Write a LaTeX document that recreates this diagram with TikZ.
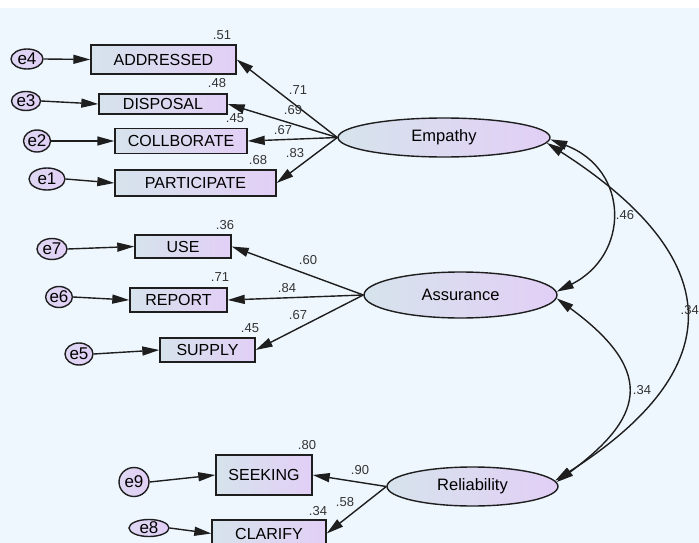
\documentclass[tikz,border=0pt]{standalone}
\usepackage{fontspec}
\setmainfont{Liberation Sans}
\usetikzlibrary{arrows.meta,shapes.geometric}
\definecolor{bgc}{RGB}{239,247,254}
\definecolor{cA}{RGB}{214,227,236}
\definecolor{cB}{RGB}{226,207,246}
\definecolor{edge}{RGB}{30,30,30}
\tikzset{
  obs/.style={draw=edge,line width=1.4pt,left color=cA,right color=cB,inner sep=0pt,font=\fontsize{16}{19}\selectfont},
  lat/.style={ellipse,draw=edge,line width=1.4pt,left color=cA,right color=cB,inner sep=0pt,font=\fontsize{16.5}{19}\selectfont},
  err/.style={ellipse,draw=edge,line width=1.4pt,left color=cA!40!cB,right color=cB,inner sep=0pt,font=\fontsize{17}{19}\selectfont},
  num/.style={font=\fontsize{13}{15}\selectfont,text=black!80,inner sep=0pt},
  path/.style={line width=1.4pt,draw=edge,-{Triangle[length=17pt,width=9pt]}},
  cov/.style={line width=1.4pt,draw=edge,{Triangle[length=17pt,width=9pt]}-{Triangle[length=17pt,width=9pt]}},
}
\begin{document}
\begin{tikzpicture}[x=1pt,y=-1pt]
\useasboundingbox (0,0) rectangle (699,543);
\fill[white] (0,0) rectangle (699,543);
\fill[bgc] (0,8) rectangle (699,543);
% Empathy block
\node[err,minimum width=32pt,minimum height=20pt] (e4) at (27,59) {e4};
\node[obs,minimum width=145pt,minimum height=29pt] (addr) at (163.5,59.5) {ADDRESSED};
\node[err,minimum width=29pt,minimum height=19pt] (e3) at (26,101) {e3};
\node[obs,minimum width=128pt,minimum height=20pt] (disp) at (163,104) {DISPOSAL};
\node[err,minimum width=27pt,minimum height=22pt] (e2) at (37,141) {e2};
\node[obs,minimum width=132pt,minimum height=25pt] (coll) at (181,141) {COLLBORATE};
\node[err,minimum width=36pt,minimum height=22pt] (e1) at (47,179) {e1};
\node[obs,minimum width=161pt,minimum height=26pt] (part) at (195.5,183) {PARTICIPATE};
\node[lat,minimum width=212pt,minimum height=39pt] (emp) at (444,137.5) {Empathy};
% Assurance block
\node[err,minimum width=30pt,minimum height=21pt] (e7) at (52,249) {e7};
\node[obs,minimum width=96pt,minimum height=23pt] (use) at (183,246.5) {USE};
\node[err,minimum width=25pt,minimum height=21pt] (e6) at (59,297) {e6};
\node[obs,minimum width=97pt,minimum height=24pt] (rep) at (178.5,300) {REPORT};
\node[err,minimum width=28pt,minimum height=22pt] (e5) at (79,354) {e5};
\node[obs,minimum width=95pt,minimum height=24pt] (sup) at (207.5,350) {SUPPLY};
\node[lat,minimum width=193pt,minimum height=46pt] (ass) at (460.5,295) {Assurance};
% Reliability block
\node[err,minimum width=30pt,minimum height=29pt] (e9) at (134,482) {e9};
\node[obs,minimum width=96pt,minimum height=40pt] (seek) at (264,475) {SEEKING};
\node[err,minimum width=40pt,minimum height=17pt] (e8) at (149,528) {e8};
\node[obs,minimum width=114pt,minimum height=27pt] (clar) at (269,533.5) {CLARIFY};
\node[lat,minimum width=171pt,minimum height=39pt] (rel) at (472.5,486.5) {Reliability};
% error paths
\foreach \e/\b in {e4/addr,e3/disp,e2/coll,e1/part,e7/use,e6/rep,e5/sup,e9/seek,e8/clar}
  \draw[path] (\e.east) -- (\b.west);
% loadings
\foreach \b in {addr,disp,coll,part} \draw[path] (emp.west) -- (\b.east);
\foreach \b in {use,rep,sup} \draw[path] (ass.west) -- (\b.east);
\foreach \b in {seek,clar} \draw[path] (rel.west) -- (\b.east);
% covariances
\draw[cov] (emp.-1) .. controls (630,170) and (630,255) .. (ass.2);
\draw[cov] (ass.-2) .. controls (660,374) and (640,420) .. (rel.3);
\draw[cov] (emp.-3) .. controls (714,250) and (744,360) .. (rel.4);
% numbers
\node[num] (n1) at (222,35) {.51};
\node[num] (n2) at (217,83) {.48};
\node[num] (n3) at (235,118) {.45};
\node[num] (n4) at (258,160) {.68};
\node[num] (n5) at (298,90) {.71};
\node[num] (n6) at (293,110) {.69};
\node[num] (n7) at (283,130) {.67};
\node[num] (n8) at (295,153) {.83};
\node[num] (n9) at (225,225) {.36};
\node[num] (n10) at (308,260) {.60};
\node[num] (n11) at (220,277) {.71};
\node[num] (n12) at (287,288) {.84};
\node[num] (n13) at (298,315) {.67};
\node[num] (n14) at (250,328) {.45};
\node[num] (n15) at (625,215) {.46};
\node[num] (n16) at (642,390) {.34};
\node[num,anchor=east] (n17) at (699,310) {.34};
\node[num] (n18) at (307,445) {.80};
\node[num] (n19) at (360,470) {.90};
\node[num] (n20) at (345,502) {.58};
\node[num] (n21) at (318,511) {.34};
\end{tikzpicture}
\end{document}
